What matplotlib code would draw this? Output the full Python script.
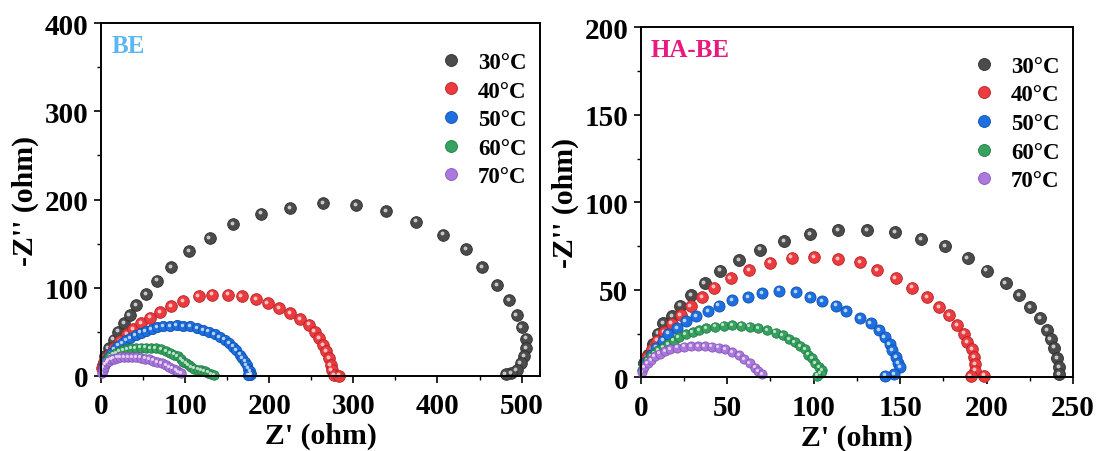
import numpy as np
import matplotlib
matplotlib.use('Agg')
import matplotlib.pyplot as plt
from matplotlib.transforms import offset_copy
from matplotlib.legend_handler import HandlerTuple

plt.rcParams['font.family'] = 'Liberation Serif'
plt.rcParams['font.weight'] = 'bold'

labels = ['30°C', '40°C', '50°C', '60°C', '70°C']
colors = ['#4b4b4b', '#ec3b3e', '#1d6fe0', '#35a35e', '#ab79dd']
edges = ['#2e2e2e', '#b52226', '#1050b0', '#23794a', '#8556b8']

# ---- BE (left panel) ----
be30_x = [2, 5, 9, 15, 20, 27, 34, 42, 54, 67, 83, 105, 129, 157, 190, 225, 264, 303, 339, 375,
          407, 434, 453, 471, 485, 494, 500, 505, 505, 503, 499, 494, 488, 481]
be30_y = [12, 22, 31, 41, 50, 60, 69, 80, 93, 108, 123, 141, 156, 172, 184, 190, 196, 194, 187, 175,
          160, 144, 123, 103, 86, 69, 55, 42, 31, 22, 14, 6, 3, 2]

be40_x = [1, 4, 9, 15, 23, 31, 38, 48, 58, 70, 83, 98, 116, 132, 151, 167, 184, 198, 212, 225,
          237, 247, 254, 259, 264, 268, 271, 273, 274, 277, 283]
be40_y = [9, 16, 24, 31, 39, 47, 53, 60, 66, 72, 79, 85, 90, 92, 92, 90, 87, 82, 77, 71,
          64, 58, 50, 43, 35, 28, 20, 12, 6, 1, 0]

be50_x = [2, 4, 6, 9, 12, 16, 20, 25, 30, 35, 41, 47, 53, 60, 67, 74, 82, 90, 98, 106,
          114, 121, 128, 135, 141, 147, 152, 157, 161, 165, 168, 171, 173, 175, 177, 178, 177, 175]
be50_y = [8, 13, 17, 22, 26, 30, 34, 37, 40, 43, 46, 49, 51, 53, 55, 56, 56.5, 57, 56.5, 56,
          54, 52, 50, 47, 44, 41, 37, 33, 29, 24, 20, 16, 12, 8, 5, 2, 1, 0.5]

be60_x = [3, 5, 8, 11, 14, 18, 22, 26, 31, 36, 41, 47, 53, 59, 65, 71, 77, 82, 87, 91,
          95, 98, 101, 104, 107, 111, 115, 119, 123, 127, 131, 134]
be60_y = [10, 15, 19, 22, 24, 26, 28, 29, 30, 31, 31.5, 32, 32, 31.5, 31, 30, 28, 26, 24, 22,
          19, 16, 14, 12, 10, 8, 7, 6, 5, 3.5, 2, 1]

be70_x = [1, 2, 3, 5, 7, 9, 12, 15, 19, 23, 27, 32, 37, 42, 47, 52, 57, 62, 67, 72,
          77, 81, 85, 89, 92, 95]
be70_y = [3, 7, 10, 13, 15, 17, 18.5, 19.5, 20.5, 21, 21.5, 21.5, 21.5, 21, 20.5, 19.5, 18.5, 17, 15.5, 14,
          12, 10, 8, 6, 4, 2.5]

# ---- HA-BE (right panel) ----
ha30_x = [2, 4, 7, 10, 13, 18, 23, 29, 37, 46, 57, 69, 83, 98, 114, 131, 147, 162, 176, 189,
          200, 211, 219, 225, 231, 235, 237, 239, 241, 242, 242]
ha30_y = [8, 13, 19, 25, 31, 35, 41, 47, 54, 61, 67, 73, 78, 82, 84, 84, 83, 79, 75, 68,
          61, 54, 47, 40, 34, 27, 22, 17, 11, 6, 2]

ha40_x = [3.9, 6.7, 9.6, 13.5, 17.9, 23.1, 28.9, 35.6, 42.4, 52, 62.6, 74.8, 87.3, 100.2, 114, 126.8,
          136.8, 147.4, 157, 165.7, 172.4, 178.2, 183, 186.9, 188.8, 191.7, 193, 193.6, 193.6, 190.8, 198.5]
ha40_y = [11.5, 16.3, 21, 25.9, 30.7, 35.4, 40.6, 46, 51.3, 56.5, 61.3, 65.5, 68.4, 68.6, 67.4, 66,
          61.3, 56.5, 51.3, 46, 40.2, 35.4, 29.7, 25, 20, 16.3, 11.5, 7.7, 3.8, 0.6, 1]

ha50_x = [3, 6, 9, 13, 16, 21, 26, 32, 39, 45, 53, 62, 70, 80, 90, 98, 105, 113, 119, 127,
          133, 138, 141, 144, 145.5, 147.5, 149, 150, 146.5, 141.5]
ha50_y = [9, 13, 17, 21, 25, 28, 32, 35, 38, 41, 44, 46, 48, 49.5, 48.5, 46, 43.5, 41, 38, 34,
          31, 27, 23, 19, 15.5, 11.5, 8, 6, 2, 1]

ha60_x = [1, 2, 4, 6, 8, 10, 13, 16, 19, 22, 26, 30, 34, 38, 43, 48, 53, 58, 63, 68,
          73, 78, 82, 86, 89, 92, 95, 97, 99, 101, 103, 105, 104, 102]
ha60_y = [4, 7, 10, 12, 14, 15.5, 17, 19, 21, 23, 24.5, 26, 27, 28, 29, 29.5, 30, 29.5, 29, 28,
          27, 25.5, 24, 22, 20, 18, 16, 13, 11, 8, 6, 4, 2.5, 1]

ha70_x = [1, 2, 4, 6, 8, 11, 14, 17, 21, 25, 29, 33, 37, 41, 45, 49, 53, 57, 60, 63,
          66, 68, 70]
ha70_y = [3, 6, 8, 10, 12, 13.5, 15, 16, 17, 17.5, 18, 18, 18, 17.5, 17, 16, 14.5, 12.5, 10.5, 8,
          5.5, 3.5, 2]

be_series = [(be30_x, be30_y, 8.4), (be40_x, be40_y, 8.4), (be50_x, be50_y, 7.4),
             (be60_x, be60_y, 6.8), (be70_x, be70_y, 6.8)]
ha_series = [(ha30_x, ha30_y, 8.6), (ha40_x, ha40_y, 8.4), (ha50_x, ha50_y, 8.0),
             (ha60_x, ha60_y, 6.8), (ha70_x, ha70_y, 6.6)]


def draw_panel(ax, series, xlim, ylim, xmaj, xmin, ymaj, ymin, tag, tagcolor):
    hl_trans = offset_copy(ax.transData, fig=ax.figure, x=-0.9, y=0.9, units='points')
    handles = []
    for i, (xs, ys, ms) in enumerate(series):
        ax.plot(xs, ys, 'o', ms=ms, color=colors[i], mec=edges[i], mew=0.6,
                linestyle='none', clip_on=False)
        ax.plot(xs, ys, 'o', ms=ms * 0.33, color='white', mew=0, alpha=0.7,
                linestyle='none', transform=hl_trans, clip_on=False)
        big, = ax.plot([], [], 'o', ms=8.6, color=colors[i], mec=edges[i], mew=0.6,
                       linestyle='none')
        hl, = ax.plot([], [], 'o', ms=2.8, color='white', mew=0, alpha=0.7,
                      linestyle='none')
        handles.append((big, hl))
    ax.set_xlim(*xlim)
    ax.set_ylim(*ylim)
    ax.set_xticks(np.arange(0, xlim[1] + 1, xmaj))
    ax.set_xticks(np.arange(0, xlim[1] + 1, xmin), minor=True)
    ax.set_yticks(np.arange(0, ylim[1] + 1, ymaj))
    ax.set_yticks(np.arange(0, ylim[1] + 1, ymin), minor=True)
    ax.tick_params(which='major', direction='out', length=5, width=1.2, labelsize=21)
    ax.tick_params(which='minor', direction='out', length=3, width=1.0)
    ax.tick_params(axis='x', pad=7)
    ax.tick_params(axis='y', pad=4)
    for sp in ax.spines.values():
        sp.set_linewidth(1.4)
    ax.set_xlabel("Z' (ohm)", fontsize=21.5, fontweight='bold', labelpad=2)
    ax.set_ylabel("-Z'' (ohm)", fontsize=21.5, fontweight='bold', labelpad=4)
    ax.text(0.024, 0.936, tag, transform=ax.transAxes, color=tagcolor, fontsize=18,
            fontweight='bold', va='center', ha='left')
    ax.legend(handles, labels, handler_map={tuple: HandlerTuple(ndivide=None)},
              loc='upper right', bbox_to_anchor=(1.0, 0.958), frameon=False,
              prop={'size': 16.5, 'weight': 'bold'}, handlelength=0.8, handletextpad=0.45,
              labelspacing=0.33, borderaxespad=0.2)


fig = plt.figure(figsize=(11.02, 4.52), dpi=100)
ax1 = fig.add_axes([0.0917, 0.1666, 0.3984, 0.7796])
ax2 = fig.add_axes([0.5814, 0.1631, 0.3923, 0.7743])

draw_panel(ax1, be_series, (0, 522), (0, 400), 100, 50, 100, 50, 'BE', '#5cb6f2')
draw_panel(ax2, ha_series, (0, 250), (0, 200), 50, 25, 50, 25, 'HA-BE', '#e8197f')

fig.savefig('out.png', dpi=100)
